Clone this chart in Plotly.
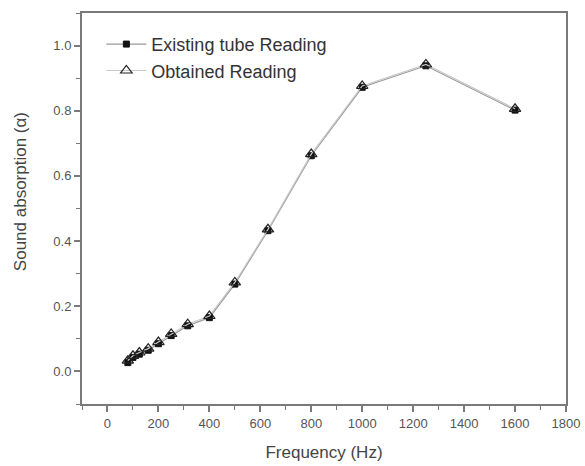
import plotly.graph_objects as go

freq = [80, 100, 125, 160, 200, 250, 315, 400, 500, 630, 800, 1000, 1250, 1600]
existing = [0.027, 0.043, 0.053, 0.065, 0.085, 0.11, 0.14, 0.165, 0.268, 0.432, 0.662, 0.872, 0.938, 0.802]
obtained = [0.033, 0.048, 0.058, 0.070, 0.090, 0.115, 0.145, 0.170, 0.273, 0.436, 0.667, 0.876, 0.942, 0.806]

x_ticks = [0, 200, 400, 600, 800, 1000, 1200, 1400, 1600, 1800]
y_ticks = [0.0, 0.2, 0.4, 0.6, 0.8, 1.0]
y_labels = ["0.0", "0.2", "0.4", "0.6", "0.8", "1.0"]

font = "Liberation Sans, Arial, sans-serif"

fig = go.Figure()
fig.add_trace(go.Scatter(
    x=freq, y=existing, mode="lines+markers", name="Existing tube Reading",
    line=dict(color="#9a9a9a", width=1.2),
    marker=dict(symbol="square", size=6, color="#111111", line=dict(color="#111111", width=1)),
))
fig.add_trace(go.Scatter(
    x=freq, y=obtained, mode="lines+markers", name="Obtained Reading",
    line=dict(color="#c8c8c8", width=1.2),
    marker=dict(symbol="triangle-up-open", size=10, color="#222222", line=dict(width=1.2)),
))

axis_common = dict(
    showline=True, linecolor="#7a7a7a", linewidth=2, mirror=True,
    ticks="outside", ticklen=6, tickwidth=1.5, tickcolor="#7a7a7a",
    showgrid=False, zeroline=False, automargin=False,
    tickfont=dict(family=font, size=13, color="#555555"),
)

fig.update_xaxes(
    range=[-100, 1800], tickvals=x_ticks,
    minor=dict(ticks="outside", ticklen=4, tickwidth=1.2, tickcolor="#7a7a7a", dtick=100, tick0=0),
    title=dict(text="Frequency (Hz)", font=dict(family=font, size=17, color="#444444"), standoff=17),
    **axis_common,
)
fig.update_yaxes(
    range=[-0.1, 1.1], tickvals=y_ticks, ticktext=y_labels,
    minor=dict(ticks="outside", ticklen=4, tickwidth=1.2, tickcolor="#7a7a7a", dtick=0.1, tick0=0),
    **axis_common,
)

fig.add_annotation(
    text="Sound absorption (α)", textangle=-90,
    xref="paper", yref="paper", x=-0.128, y=0.542,
    xanchor="center", yanchor="middle", showarrow=False,
    font=dict(family=font, size=17, color="#444444"),
)

fig.update_layout(
    width=585, height=466,
    margin=dict(l=82, r=19, t=13, b=62),
    paper_bgcolor="white", plot_bgcolor="white",
    showlegend=True,
    legend=dict(
        x=0.04, y=0.967, xanchor="left", yanchor="top",
        bgcolor="rgba(0,0,0,0)", borderwidth=0,
        font=dict(family=font, size=18, color="#333333"),
        tracegroupgap=0, itemwidth=40,
    ),
)

fig.write_html("out.html", config={"displayModeBar": False},
               post_script="document.body.style.margin='0';")
